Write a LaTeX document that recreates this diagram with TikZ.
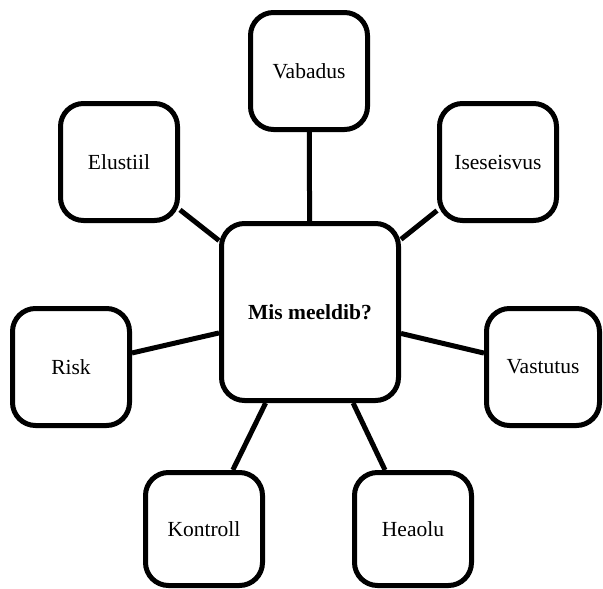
\documentclass[tikz,border=0pt]{standalone}
\usepackage{fontspec}
\setmainfont{Liberation Serif}

\begin{document}
\begin{tikzpicture}[x=1pt, y=-1pt]

    % 定义核心参数
    \def\lw{5pt}       % 线宽
    \def\rr{23pt}      % 圆角半径

    \tikzset{
        box/.style={draw, line width=\lw, rounded corners=\rr, fill=white,
            minimum width=117pt, minimum height=117pt, inner sep=2pt,
            font=\fontsize{21.5}{25}\selectfont},
        hub/.style={box, minimum width=177pt, minimum height=177pt,
            font=\fontsize{21.5}{25}\selectfont\bfseries},
        link/.style={line width=\lw}
    }

    % 0. 画布边界
    \useasboundingbox (0,0) rectangle (603,589);

    % 1. 中心节点与周围节点
    \node[hub] (hub) at (310,312) {Mis meeldib?};
    \node[box] (vabadus)    at (309,71)  {Vabadus};
    \node[box] (elustiil)   at (119,162) {Elustiil};
    \node[box] (iseseisvus) at (498,162) {Iseseisvus};
    \node[box] (risk)       at (71,367)  {Risk};
    \node[box, minimum width=113pt] (vastutus) at (543,367) {Vastutus};
    \node[box, minimum height=113pt] (kontroll) at (204,529) {Kontroll};
    \node[box, minimum height=113pt] (heaolu)   at (413,529) {Heaolu};

    % 2. 连接线
    \foreach \n in {vabadus, elustiil, iseseisvus, risk, vastutus, kontroll, heaolu}
        \draw[link] (hub) -- (\n);

\end{tikzpicture}
\end{document}
